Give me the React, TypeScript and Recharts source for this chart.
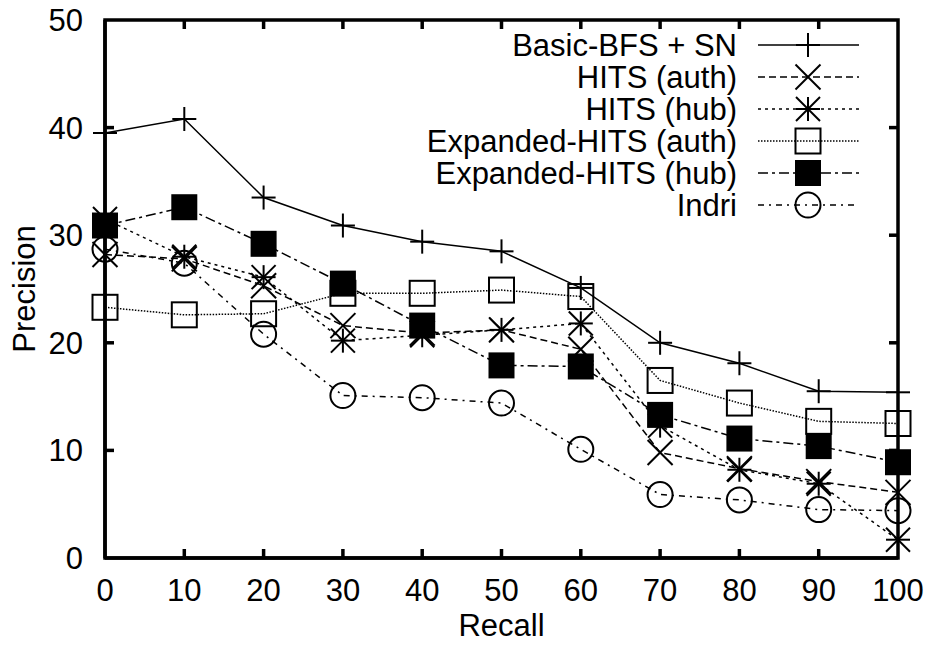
import { LineChart, Line, XAxis, YAxis, Legend } from 'recharts'

// recall levels (x axis)
const recall = [0, 10, 20, 30, 40, 50, 60, 70, 80, 90, 100]

// precision per method
const basicBfsSn = [39.5, 40.8, 33.5, 30.9, 29.4, 28.5, 25.1, 20.0, 18.1, 15.5, 15.4]
const hitsAuth = [28.2, 27.8, 25.3, 21.6, 20.9, 21.2, 19.4, 9.8, 8.3, 7.1, 6.1]
const hitsHub = [31.5, 28.0, 26.1, 20.2, 20.7, 21.2, 21.8, 12.3, 8.2, 6.9, 1.7]
const expandedAuth = [23.3, 22.6, 22.7, 24.6, 24.6, 24.9, 24.3, 16.5, 14.4, 12.7, 12.5]
const expandedHub = [30.9, 32.6, 29.2, 25.5, 21.6, 17.9, 17.8, 13.3, 11.1, 10.4, 8.9]
const indri = [28.7, 27.4, 20.8, 15.1, 14.9, 14.4, 10.1, 5.9, 5.4, 4.5, 4.4]

const xTicks = [0, 10, 20, 30, 40, 50, 60, 70, 80, 90, 100]
const yTicks = [0, 10, 20, 30, 40, 50]

const data = recall.map((r, i) => ({
  recall: r,
  basic: basicBfsSn[i],
  hitsAuth: hitsAuth[i],
  hitsHub: hitsHub[i],
  expAuth: expandedAuth[i],
  expHub: expandedHub[i],
  indri: indri[i],
}))

type MarkerKind = 'plus' | 'cross' | 'star' | 'box' | 'boxFilled' | 'circle'

const series: { key: string; name: string; dash?: string; marker: MarkerKind }[] = [
  { key: 'basic', name: 'Basic-BFS + SN', marker: 'plus' },
  { key: 'hitsAuth', name: 'HITS (auth)', dash: '7 4', marker: 'cross' },
  { key: 'hitsHub', name: 'HITS (hub)', dash: '3 4', marker: 'star' },
  { key: 'expAuth', name: 'Expanded-HITS (auth)', dash: '1.5 1.5', marker: 'box' },
  { key: 'expHub', name: 'Expanded-HITS (hub)', dash: '10 4 3 4', marker: 'boxFilled' },
  { key: 'indri', name: 'Indri', dash: '6 5 2 5', marker: 'circle' },
]

const FONT = 'Liberation Sans'
const FS = 31
const TICK = 9
const BORDER = 3.5

// chart box; the plot area follows from the margins and axis sizes below
const W = 930
const H = 654
const M_TOP = 20
const M_RIGHT = 32
const Y_AXIS_W = 105
const X_AXIS_H = 96
const PLOT = { left: Y_AXIS_W, top: M_TOP, width: W - M_RIGHT - Y_AXIS_W, height: H - X_AXIS_H - M_TOP }
const X_DOMAIN: [number, number] = [0, 100]
const Y_DOMAIN: [number, number] = [0, 50]
const sx = (v: number) => PLOT.left + ((v - X_DOMAIN[0]) / (X_DOMAIN[1] - X_DOMAIN[0])) * PLOT.width
const sy = (v: number) => PLOT.top + PLOT.height - ((v - Y_DOMAIN[0]) / (Y_DOMAIN[1] - Y_DOMAIN[0])) * PLOT.height

function markerShape(kind: MarkerKind, x: number, y: number) {
  const sw = 2
  if (kind === 'plus') {
    return (
      <g stroke="#000" strokeWidth={sw}>
        <line x1={x - 12} x2={x + 12} y1={y} y2={y} />
        <line x1={x} x2={x} y1={y - 12} y2={y + 12} />
      </g>
    )
  }
  if (kind === 'cross') {
    return (
      <g stroke="#000" strokeWidth={sw}>
        <line x1={x - 12.5} x2={x + 12.5} y1={y - 12.5} y2={y + 12.5} />
        <line x1={x - 12.5} x2={x + 12.5} y1={y + 12.5} y2={y - 12.5} />
      </g>
    )
  }
  if (kind === 'star') {
    return (
      <g stroke="#000" strokeWidth={sw}>
        <line x1={x - 12} x2={x + 12} y1={y} y2={y} />
        <line x1={x} x2={x} y1={y - 12} y2={y + 12} />
        <line x1={x - 12} x2={x + 12} y1={y - 12} y2={y + 12} />
        <line x1={x - 12} x2={x + 12} y1={y + 12} y2={y - 12} />
      </g>
    )
  }
  if (kind === 'box') {
    return <rect x={x - 12.5} y={y - 12.5} width={25} height={25} fill="none" stroke="#000" strokeWidth={sw} />
  }
  if (kind === 'boxFilled') {
    return <rect x={x - 13} y={y - 13} width={26} height={26} fill="#000" />
  }
  return <circle cx={x} cy={y} r={12.5} fill="none" stroke="#000" strokeWidth={sw} />
}

const dotFor = (kind: MarkerKind) => (props: any) => (
  <g key={`${kind}-${props.index}`}>{markerShape(kind, props.cx, props.cy)}</g>
)

function BottomTick({ x, y, payload }: any) {
  return (
    <text x={x} y={y + 43} textAnchor="middle" fontSize={FS} fontFamily={FONT} fill="#000">
      {payload.value}
    </text>
  )
}

function LeftTick({ x, y, payload }: any) {
  return (
    <text x={x - 22} y={y + 11} textAnchor="end" fontSize={FS} fontFamily={FONT} fill="#000">
      {payload.value}
    </text>
  )
}

// gnuplot-style frame with inward ticks on all four sides
function Frame() {
  const innerX = xTicks.slice(1, -1)
  const innerY = yTicks.slice(1, -1)
  const bottom = PLOT.top + PLOT.height
  const right = PLOT.left + PLOT.width
  return (
    <g stroke="#000" strokeWidth={BORDER} fill="none">
      <rect x={PLOT.left} y={PLOT.top} width={PLOT.width} height={PLOT.height} />
      {innerX.map((t) => (
        <g key={`x${t}`}>
          <line x1={sx(t)} x2={sx(t)} y1={bottom} y2={bottom - TICK} />
          <line x1={sx(t)} x2={sx(t)} y1={PLOT.top} y2={PLOT.top + TICK} />
        </g>
      ))}
      {innerY.map((t) => (
        <g key={`y${t}`}>
          <line x1={PLOT.left} x2={PLOT.left + TICK} y1={sy(t)} y2={sy(t)} />
          <line x1={right} x2={right - TICK} y1={sy(t)} y2={sy(t)} />
        </g>
      ))}
    </g>
  )
}

const renderLegend = () => (
  <svg width={W} height={H} style={{ display: 'block' }}>
    <Frame />
    {series.map((s, i) => {
      const y = 45 + i * 32
      return (
        <g key={s.key}>
          <text x={737} y={y + 11} textAnchor="end" fontSize={FS} fontFamily={FONT} fill="#000">
            {s.name}
          </text>
          <line x1={758} x2={859} y1={y} y2={y} stroke="#000" strokeWidth={1.5} strokeDasharray={s.dash} />
          {markerShape(s.marker, 808, y)}
        </g>
      )
    })}
  </svg>
)

export default function App() {
  const axisLine = { stroke: '#000', strokeWidth: BORDER }
  return (
    <div style={{ position: 'absolute', left: 0, top: 0, background: '#fff' }}>
      <LineChart width={W} height={H} data={data} margin={{ top: M_TOP, right: M_RIGHT, bottom: 0, left: 0 }}>
        <XAxis
          xAxisId="bottom"
          dataKey="recall"
          type="number"
          domain={X_DOMAIN}
          ticks={xTicks}
          height={X_AXIS_H}
          tickSize={0}
          tickMargin={0}
          tickLine={false}
          axisLine={axisLine}
          tick={BottomTick}
          interval={0}
          label={(p: any) => (
            <text x={p.viewBox.x + p.viewBox.width / 2} y={636} textAnchor="middle" fontSize={FS} fontFamily={FONT}>
              Recall
            </text>
          )}
        />
        <YAxis
          yAxisId="left"
          type="number"
          domain={Y_DOMAIN}
          ticks={yTicks}
          width={Y_AXIS_W}
          tickSize={0}
          tickMargin={0}
          tickLine={false}
          axisLine={axisLine}
          tick={LeftTick}
          interval={0}
          label={(p: any) => {
            const cy = p.viewBox.y + p.viewBox.height / 2
            return (
              <text x={35} y={cy} transform={`rotate(-90, 35, ${cy})`} textAnchor="middle" fontSize={FS} fontFamily={FONT}>
                Precision
              </text>
            )
          }}
        />
        {series.map((s) => (
          <Line
            key={s.key}
            xAxisId="bottom"
            yAxisId="left"
            dataKey={s.key}
            name={s.name}
            stroke="#000"
            strokeWidth={1.5}
            strokeDasharray={s.dash}
            dot={dotFor(s.marker)}
            activeDot={false}
            isAnimationActive={false}
          />
        ))}
        <Legend
          layout="vertical"
          align="center"
          verticalAlign="middle"
          content={renderLegend}
          wrapperStyle={{ top: 0, left: 0, width: W, height: H, pointerEvents: 'none' }}
        />
      </LineChart>
    </div>
  )
}
